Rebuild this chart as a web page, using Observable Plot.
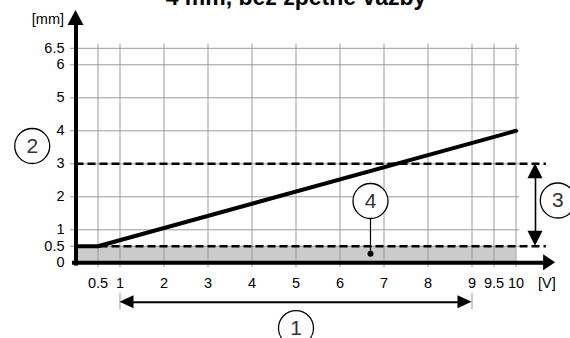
<!DOCTYPE html>
<html>
<head>
<meta charset="utf-8">
<script src="https://cdn.jsdelivr.net/npm/d3@7"></script>
<script src="https://cdn.jsdelivr.net/npm/@observablehq/plot@0.6"></script>
<style>
  html, body { margin: 0; padding: 0; background: #fff; }
  svg { display: block; }
</style>
</head>
<body>
<div id="chart"></div>
<script>
// ---- data ----
const title = "4 mm, bez zpětné vazby";
const xTicks = [0.5, 1, 2, 3, 4, 5, 6, 7, 8, 9, 9.5, 10];
const yTicks = [0, 0.5, 1, 2, 3, 4, 5, 6, 6.5];
const lineV = [0, 0.5, 10];
const lineMm = [0.5, 0.5, 4];
const limitLevels = [0.5, 3];
const rangeV = [1, 9];
const xUnit = "[V]";
const yUnit = "[mm]";
const markerLabels = ["1", "2", "3", "4"];
const markerV = [5.0, -0.995, 10.95, 6.693];
const markerMm = [-1.98, 3.54, 1.888, 1.873];

// ---- annotation geometry (data space) ----
const yAxisTip = 7.645, xAxisTip = 10.9;
const gridTop = 6.62, gridBottom = -0.14, gridLeft = -0.125, gridRight = 10.08;
const dashRight = 10.69;
const rangeArrowMm = -1.194, rangeTickMm = [-0.92, -1.43];
const limitArrowV = 10.443;
const pointerMm = 0.273;

const line = lineV.map((v, i) => ({v, mm: lineMm[i]}));
const markers = markerLabels.map((t, i) => ({t, v: markerV[i], mm: markerMm[i]}));

const heads = [
  {x: 0, y: yAxisTip, dir: "up", L: 15, W: 8},
  {x: xAxisTip, y: 0, dir: "right", L: 12, W: 8},
  {x: rangeV[0], y: rangeArrowMm, dir: "left", L: 14, W: 6.5},
  {x: rangeV[1], y: rangeArrowMm, dir: "right", L: 14, W: 6.5},
  {x: limitArrowV, y: limitLevels[1], dir: "up", L: 15, W: 7.5},
  {x: limitArrowV, y: limitLevels[0], dir: "down", L: 15, W: 7.5}
];

function headMark(list) {
  return (index, scales) => {
    const g = d3.create("svg:g");
    for (const h of list) {
      const px = scales.x(h.x), py = scales.y(h.y);
      let pts;
      if (h.dir === "up") pts = [[px, py], [px - h.W, py + h.L], [px + h.W, py + h.L]];
      else if (h.dir === "down") pts = [[px, py], [px - h.W, py - h.L], [px + h.W, py - h.L]];
      else if (h.dir === "right") pts = [[px, py], [px - h.L, py - h.W], [px - h.L, py + h.W]];
      else pts = [[px, py], [px + h.L, py - h.W], [px + h.L, py + h.W]];
      g.append("polygon").attr("points", pts.map(p => p.join(",")).join(" ")).attr("fill", "black");
    }
    return g.node();
  };
}

const chart = Plot.plot({
  width: 570,
  height: 338,
  marginLeft: 75.5,
  marginRight: 54.5,
  marginTop: 47.8,
  marginBottom: 75.7,
  x: {domain: [0, 10], axis: null},
  y: {domain: [0, 6.5], axis: null},
  style: {fontFamily: "'Liberation Sans', Arial, sans-serif", background: "white", overflow: "visible", color: "black"},
  marks: [
    Plot.rect([0], {x1: 0, x2: 10, y1: 0, y2: limitLevels[0], fill: "#cbcbcb"}),
    Plot.ruleX(xTicks, {y1: gridBottom, y2: gridTop, stroke: "#999", strokeWidth: 1}),
    Plot.ruleY(yTicks.filter(d => d > 0), {x1: gridLeft, x2: gridRight, stroke: "#999", strokeWidth: 1}),
    Plot.ruleY(limitLevels, {x1: 0, x2: dashRight, stroke: "black", strokeWidth: 2.6, strokeDasharray: "8,4"}),
    Plot.line(line, {x: "v", y: "mm", stroke: "black", strokeWidth: 4}),
    // axes
    Plot.ruleX([0], {y1: -0.1, y2: yAxisTip - 0.3, stroke: "black", strokeWidth: 4}),
    Plot.ruleY([0], {x1: -0.08, x2: xAxisTip - 0.15, stroke: "black", strokeWidth: 4}),
    // range arrow (1)
    Plot.ruleX(rangeV, {y1: rangeTickMm[0], y2: rangeTickMm[1], stroke: "#999", strokeWidth: 1}),
    Plot.ruleY([rangeArrowMm], {x1: rangeV[0] + 0.1, x2: rangeV[1] - 0.1, stroke: "black", strokeWidth: 2}),
    // limit arrow (3)
    Plot.ruleX([limitArrowV], {y1: limitLevels[0] + 0.1, y2: limitLevels[1] - 0.1, stroke: "black", strokeWidth: 1.6}),
    headMark(heads),
    // pointer (4)
    Plot.ruleX([markerV[3]], {y1: pointerMm, y2: markerMm[3], stroke: "black", strokeWidth: 1.2}),
    Plot.dot([markerV[3]], {x: d => d, y: pointerMm, r: 3, fill: "black"}),
    // tick labels
    Plot.axisX(xTicks, {tickSize: 0, tickPadding: 15, fontSize: 14.5, label: null, tickFormat: d => String(d)}),
    Plot.axisY(yTicks, {tickSize: 0, tickPadding: 11.5, fontSize: 14.5, label: null, tickFormat: d => String(d)}),
    Plot.text([xUnit], {x: 10.7, y: -0.613, text: d => d, fontSize: 14.5, textAnchor: "middle"}),
    Plot.text([yUnit], {x: 0, y: 7.37, text: d => d, fontSize: 14.5, textAnchor: "end", dx: -12}),
    // markers
    Plot.dot(markers, {x: "v", y: "mm", r: 17.5, fill: "white", stroke: "black", strokeWidth: 1.3}),
    Plot.text(markers, {x: "v", y: "mm", text: "t", fontSize: 21, fill: "#333"}),
    // title
    Plot.text([title], {frameAnchor: "top", text: d => d, lineAnchor: "bottom", dy: -43.3, fontSize: 23, fontWeight: "bold"})
  ]
});
document.getElementById("chart").append(chart);
</script>
</body>
</html>
